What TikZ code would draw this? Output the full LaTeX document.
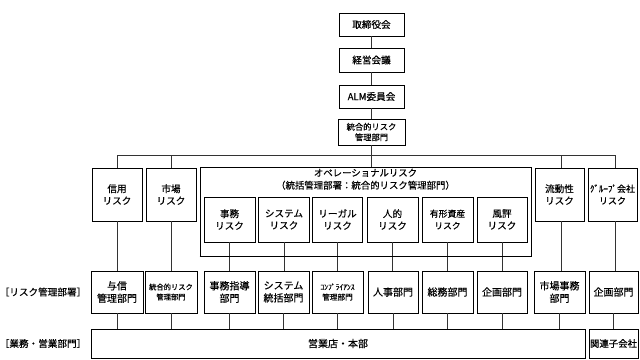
\documentclass[tikz,border=0pt]{standalone}
\usepackage{fontspec}
\setmainfont{Noto Sans CJK JP}[BoldFont={Noto Sans CJK JP},BoldFeatures={FakeBold=0.4}]
\begin{document}
\begin{tikzpicture}[x=1pt,y=-1pt,
  box/.style={draw=black, line width=0.8pt, inner sep=0pt, align=center, fill=white,
    font=\fontsize{9.6}{12}\selectfont\bfseries},
  sz/.style 2 args={minimum width=#1pt, minimum height=#2pt},
  conn/.style={draw=black!80, line width=0.8pt},
  lbl/.style={inner sep=0pt, align=center, font=\fontsize{9}{11}\selectfont\bfseries}]
\useasboundingbox (0,0) rectangle (640,359);
\fill[white] (0,0) rectangle (640,359);
% top chain
\node[box,sz={65}{23}] (bod) at (371.5,24.5) {取締役会};
\node[box,sz={65}{24}] (mgmt) at (371.5,60) {経営会議};
\node[box,sz={65}{23}] (alm) at (371.5,96.5) {ALM委員会};
\node[box,sz={67}{26},font=\fontsize{8.3}{10.5}\selectfont\bfseries] (irm) at (371.5,132) {統合的リスク\\管理部門};
% risk row
\node[box,sz={50}{53}] (credit) at (117,194.5) {信用\\リスク};
\node[box,sz={50}{53}] (market) at (171,194.5) {市場\\リスク};
\node[box,sz={331}{89}] (ops) at (365.5,211.5) {};
\node[lbl,font=\fontsize{9.4}{12.5}\selectfont\bfseries,anchor=north] (opst) at (365.5,168.5) {オペレーショナルリスク\\（統括管理部署：統合的リスク管理部門）};
\node[box,sz={49}{53}] (liq) at (559.5,194.5) {流動性\\リスク};
\node[box,sz={49}{53},font=\fontsize{9}{12}\selectfont\bfseries] (grp) at (612.5,194.5) {ｸﾞﾙｰﾌﾟ会社\\リスク};
% operational sub risks
\node[box,sz={51}{45}] (r1) at (229.5,219.5) {事務\\リスク};
\node[box,sz={51}{45}] (r2) at (284,219.5) {システム\\リスク};
\node[box,sz={50}{45}] (r3) at (337.5,219.5) {リーガル\\リスク};
\node[box,sz={51}{45}] (r4) at (392.5,219.5) {人的\\リスク};
\node[box,sz={51}{45},font=\fontsize{8.8}{12}\selectfont\bfseries] (r5) at (447.5,219.5) {有形資産\\リスク};
\node[box,sz={50}{45}] (r6) at (502,219.5) {風評\\リスク};
% departments
\node[box,sz={52}{42},font=\fontsize{10}{12.5}\selectfont\bfseries] (d1) at (117,292) {与信\\管理部門};
\node[box,sz={52}{42},font=\fontsize{7.3}{10}\selectfont\bfseries] (d2) at (171,292) {統合的リスク\\管理部門};
\node[box,sz={51}{42},font=\fontsize{10}{12.5}\selectfont\bfseries] (d3) at (229.5,292) {事務指導\\部門};
\node[box,sz={51}{42},font=\fontsize{10}{12.5}\selectfont\bfseries] (d4) at (283.5,292) {システム\\統括部門};
\node[box,sz={51}{42},font=\fontsize{7.6}{10}\selectfont\bfseries] (d5) at (337.5,292) {ｺﾝﾌﾟﾗｲｱﾝｽ\\管理部門};
\node[box,sz={50}{42},font=\fontsize{10}{12.5}\selectfont\bfseries] (d6) at (393,292) {人事部門};
\node[box,sz={51}{42},font=\fontsize{10}{12.5}\selectfont\bfseries] (d7) at (447.5,292) {総務部門};
\node[box,sz={50}{42},font=\fontsize{10}{12.5}\selectfont\bfseries] (d8) at (502,292) {企画部門};
\node[box,sz={51}{42},font=\fontsize{10}{12.5}\selectfont\bfseries] (d9) at (559.5,292) {市場事務\\部門};
\node[box,sz={49}{42},font=\fontsize{10}{12.5}\selectfont\bfseries] (d10) at (613.5,292) {企画部門};
% bottom
\node[box,sz={494}{29},font=\fontsize{10}{12}\selectfont\bfseries] (branch) at (338,343.5) {営業店・本部};
\node[box,sz={49}{29},font=\fontsize{9.4}{12}\selectfont\bfseries] (sub) at (613.5,343.5) {関連子会社};
% side labels
\node[lbl,font=\fontsize{9.6}{12}\selectfont\bfseries] (lab1) at (43,292) {［リスク管理部署］};
\node[lbl,font=\fontsize{9.6}{12}\selectfont\bfseries] (lab2) at (43,343.5) {［業務・営業部門］};
% connectors top
\draw[conn] (bod) -- (mgmt);
\draw[conn] (mgmt) -- (alm);
\draw[conn] (alm) -- (irm);
\coordinate (busL) at (117,155);
\coordinate (busR) at (615,155);
\draw[conn] (irm.south) -- (irm.south |- busL);
\draw[conn] (credit.north) |- (busR) -- (busR |- grp.north);
\draw[conn] (market.north) -- (market.north |- busL);
\draw[conn] (irm.south |- busL) -- (irm.south |- ops.north);
\draw[conn] (liq.north -| 561,0) -- (561,155);
% risk to dept
\draw[conn] (credit.south) -- (d1.north);
\draw[conn] (market.south) -- (d2.north);
\draw[conn] (r1.south) -- (r1.south |- d3.north);
\draw[conn] (r2.south) -- (r2.south |- d4.north);
\draw[conn] (r3.south) -- (r3.south |- d5.north);
\draw[conn] (r4.south) -- (r4.south |- d6.north);
\draw[conn] (r5.south) -- (r5.south |- d7.north);
\draw[conn] (r6.south) -- (r6.south |- d8.north);
\draw[conn] (liq.south -| 561,0) -- (d9.north -| 561,0);
\draw[conn] (grp.south -| 615,0) -- (d10.north -| 615,0);
% ops box bottom line redrawn over connectors
\draw[line width=0.8pt] (ops.south west) -- (ops.south east);
% dept to bottom
\foreach \d in {d1,d2,d3,d4,d5,d6,d7,d8,d9}{
  \draw[conn] (\d.south) -- (\d.south |- branch.north);
}
\draw[conn] (d10.south) -- (d10.south |- sub.north);
\end{tikzpicture}
\end{document}
